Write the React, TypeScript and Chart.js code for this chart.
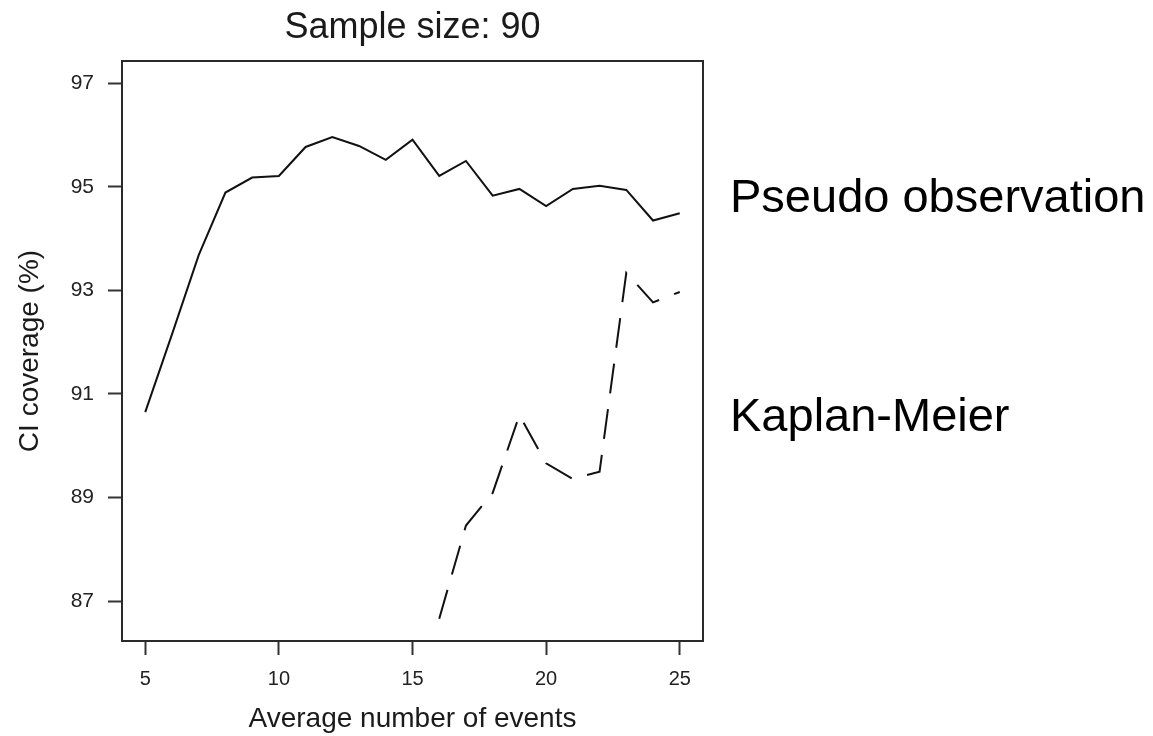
import React, { useEffect, useRef } from "react";
import { Chart, registerables } from "chart.js";

Chart.register(...registerables);

const events = [5, 6, 7, 8, 9, 10, 11, 12, 13, 14, 15, 16, 17, 18, 19, 20, 21, 22, 23, 24, 25];
const pseudoCoverage = [
  90.65, 92.15, 93.68, 94.89, 95.18, 95.21, 95.77, 95.96, 95.79, 95.52, 95.91,
  95.21, 95.5, 94.83, 94.96, 94.63, 94.96, 95.02, 94.94, 94.35, 94.49,
];
const kmEvents = [16, 17, 18, 19, 20, 21, 22, 23, 24, 25];
const kmCoverage = [86.66, 88.46, 89.09, 90.59, 89.66, 89.36, 89.5, 93.34, 92.77, 92.97];

const xTicks = [5, 10, 15, 20, 25];
const yTicks = [87, 89, 91, 93, 95, 97];

const titleText = "Sample size: 90";
const xTitle = "Average number of events";
const yTitle = "CI coverage (%)";
const seriesLabels = ["Pseudo observation", "Kaplan-Meier"];

const FONT = '"Liberation Sans", Arial, Helvetica, sans-serif';

export default function App() {
  const ref = useRef<HTMLCanvasElement | null>(null);

  useEffect(() => {
    const canvas = ref.current;
    if (!canvas) return;

    const overlay = {
      id: "overlay",
      afterDraw(chart: any) {
        const { ctx, chartArea } = chart;
        ctx.save();
        // plot frame
        ctx.strokeStyle = "#2a2a2a";
        ctx.lineWidth = 2;
        ctx.strokeRect(chartArea.left, chartArea.top, chartArea.right - chartArea.left, chartArea.bottom - chartArea.top);
        // title
        ctx.fillStyle = "#1a1a1a";
        ctx.textAlign = "center";
        ctx.textBaseline = "alphabetic";
        ctx.font = `36px ${FONT}`;
        ctx.fillText(titleText, (chartArea.left + chartArea.right) / 2, 38);
        // series labels
        ctx.textAlign = "left";
        ctx.fillStyle = "#000";
        ctx.font = `47px ${FONT}`;
        ctx.fillText(seriesLabels[0], 730, 212);
        ctx.fillText(seriesLabels[1], 730, 431);
        ctx.restore();
      },
    };

    const chart = new Chart(canvas, {
      type: "line",
      data: {
        datasets: [
          {
            label: seriesLabels[0],
            data: events.map((x, i) => ({ x, y: pseudoCoverage[i] })),
            borderColor: "#111",
            borderWidth: 2,
            pointRadius: 0,
            tension: 0,
            fill: false,
          },
          {
            label: seriesLabels[1],
            data: kmEvents.map((x, i) => ({ x, y: kmCoverage[i] })),
            borderColor: "#111",
            borderWidth: 2,
            borderDash: [30, 16],
            pointRadius: 0,
            tension: 0,
            fill: false,
          },
        ],
      },
      options: {
        responsive: false,
        animation: false,
        devicePixelRatio: 1,
        layout: { padding: { left: 0, top: 61, right: 450, bottom: 0 } },
        plugins: {
          legend: { display: false },
          tooltip: { enabled: false },
          title: { display: false },
        },
        scales: {
          x: {
            type: "linear",
            min: 4.13,
            max: 25.87,
            afterBuildTicks: (scale: any) => {
              scale.ticks = xTicks.map((v) => ({ value: v }));
            },
            afterFit: (scale: any) => {
              scale.height = 95;
            },
            border: { display: false },
            grid: {
              display: true,
              drawOnChartArea: false,
              drawTicks: true,
              tickLength: 14,
              tickColor: "#333",
              tickWidth: 2,
            },
            ticks: {
              color: "#222",
              font: { family: FONT, size: 20 },
              padding: 12,
              maxRotation: 0,
              autoSkip: false,
              callback: (v: any) => String(v),
            },
            title: {
              display: true,
              text: xTitle,
              color: "#1a1a1a",
              font: { family: FONT, size: 28 },
              padding: { top: 0, bottom: 0 },
            },
          },
          y: {
            type: "linear",
            min: 86.23,
            max: 97.43,
            afterBuildTicks: (scale: any) => {
              scale.ticks = yTicks.map((v) => ({ value: v }));
            },
            afterFit: (scale: any) => {
              scale.width = 122;
            },
            border: { display: false },
            grid: {
              display: true,
              drawOnChartArea: false,
              drawTicks: true,
              tickLength: 14,
              tickColor: "#333",
              tickWidth: 2,
            },
            ticks: {
              color: "#222",
              font: { family: FONT, size: 21 },
              padding: 14,
              autoSkip: false,
              callback: (v: any) => String(v),
            },
            title: {
              display: true,
              text: yTitle,
              color: "#1a1a1a",
              font: { family: FONT, size: 28 },
              padding: { top: 13, bottom: 0 },
            },
          },
        },
      },
      plugins: [overlay],
    } as any);

    return () => chart.destroy();
  }, []);

  return (
    <div style={{ position: "absolute", left: 0, top: 0, width: 1153, height: 736, background: "#fff" }}>
      <canvas ref={ref} width={1153} height={736} style={{ width: 1153, height: 736, display: "block" }} />
    </div>
  );
}
